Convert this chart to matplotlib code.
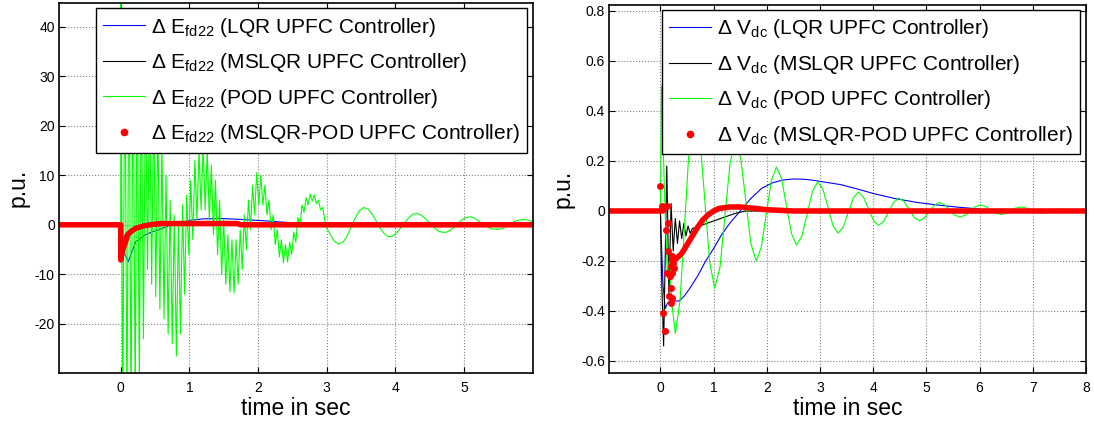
"""Delta Efd22 and Delta Vdc responses for the four UPFC controllers."""

import numpy as np
import matplotlib
matplotlib.use('Agg')
import matplotlib.pyplot as plt
from matplotlib.lines import Line2D
from matplotlib.ticker import FuncFormatter

plt.rcParams['font.family'] = ['Liberation Sans', 'DejaVu Sans']
plt.rcParams['axes.unicode_minus'] = False

# ---- left panel: delta E_fd22 ----
efd_lqr_t = [-0.9, 0.0, 0.02, 0.06, 0.11, 0.16, 0.22, 0.3, 0.36, 0.46, 0.56, 0.66,
             0.75, 0.9, 1.0, 1.2, 1.5, 1.8, 2.1, 2.4, 2.7, 3.0, 6.0]
efd_lqr_v = [0, 0, -2.5, -6.0, -7.4, -5.5, -3.4, -2.6, -2.0, -1.4, -1.0, -0.4,
             0.1, 0.5, 0.9, 1.2, 1.25, 1.05, 0.8, 0.5, 0.2, 0.05, 0.0]

efd_mslqr_t = [-0.9, 0.0, 0.01, 0.04, 0.08, 0.15, 0.25, 0.4, 0.6, 1.7, 1.8, 6.0]
efd_mslqr_v = [0, 0, -3.0, -2.6, -1.8, -1.0, -0.4, 0.0, 0.25, 0.25, 0.0, 0.0]

# POD: fast swings read every 0.03 s from t = 0, then the slow tail every 0.06 s from t = 3
efd_pod_fast_step = 0.03
efd_pod_fast_v = [50, -40, 42, -40, 40, -38, 38, -36, 35, -32,
                  32, -23, 30, -9, 28, -12, 26, -14.5, 22, -17,
                  16, -19, 10, -22, 5, -24, 2, -26.5, 0, -22,
                  4, -14, 6, -6, 9, -3, 13, 1, 15, 3,
                  16, 3, 15, 1, 12, -2, 9, -6, 5, -10,
                  1, -12, -2, -13.5, -3, -13.8, -3, -12, -1, -9,
                  2, -5, 5, -1, 8, 2, 10.5, 4, 10, 4,
                  8, 2, 5, -1, 2, -4, -1, -6.5, -3, -7.7,
                  -4, -7.5, -3.5, -6, -1.5, -3.5, 1.5, -0.5, 4, 2.5,
                  5.5, 4, 6.2, 4.8, 6, 4.3, 5, 3, 3.5, 1.2]
efd_pod_tail_start = 3.0
efd_pod_tail_step = 0.06
efd_pod_tail_v = [-0.6, -2.2, -3.4, -3.9, -3.5, -2.2, -0.3, 1.5, 2.9, 3.5,
                  3.2, 2.2, 0.8, -0.7, -1.8, -2.4, -2.3, -1.6, -0.6, 0.5,
                  1.5, 2.2, 2.3, 1.9, 1.2, 0.3, -0.5, -1.2, -1.5, -1.5,
                  -1.1, -0.4, 0.4, 1.1, 1.5, 1.6, 1.3, 0.7, 0.1, -0.4,
                  -0.8, -0.9, -0.9, -0.6, -0.1, 0.4, 0.8, 1.0, 1.1, 0.9, 0.6]

efd_mix_t = [-0.9, 0.0, 0.0, 0.02, 0.05, 0.08, 0.1, 0.15, 0.22, 0.34, 0.45, 0.58,
             1.7, 1.75, 6.0]
efd_mix_v = [0, 0, -7.1, -5.5, -4.2, -3.0, -2.0, -1.35, -0.7, -0.2, 0.05, 0.25,
             0.25, 0.0, 0.0]

# ---- right panel: delta V_dc ----
vdc_lqr_t = [-0.96, 0.0, 0.01, 0.05, 0.09, 0.13, 0.17, 0.25, 0.35, 0.45, 0.55, 0.7,
             0.85, 1.0, 1.15, 1.3, 1.5, 1.7, 1.9, 2.1, 2.3, 2.5, 2.7, 2.9, 3.1, 3.4,
             3.7, 4.0, 4.4, 4.8, 5.2, 5.6, 6.0]
vdc_lqr_v = [0, 0, -0.08, -0.3, -0.39, -0.37, -0.36, -0.36, -0.36, -0.34, -0.31, -0.26,
             -0.2, -0.15, -0.095, -0.05, 0.0, 0.05, 0.09, 0.112, 0.124, 0.128, 0.127,
             0.122, 0.115, 0.105, 0.088, 0.07, 0.05, 0.035, 0.024, 0.015, 0.008]

vdc_mslqr_t = [-0.96, 0.0, 0.02, 0.06, 0.12, 0.16, 0.2, 0.24, 0.28, 0.32, 0.36, 0.4,
               0.44, 0.48, 0.52, 0.56, 0.6, 0.8, 1.0, 1.2, 1.4, 1.6, 2.0, 8.0]
vdc_mslqr_v = [0, 0, -0.25, -0.54, 0.18, -0.34, 0.03, -0.16, -0.03, -0.13, -0.04, -0.11,
               -0.05, -0.1, -0.06, -0.09, -0.07, -0.055, -0.04, -0.025, -0.01, 0.0,
               0.0, 0.0]

vdc_pod_t = [-0.96, 0.0, 0.02, 0.08, 0.13, 0.17, 0.22, 0.28,
             0.37, 0.46, 0.55, 0.64, 0.735, 0.83, 0.925, 1.02,
             1.12, 1.215, 1.31, 1.41, 1.51, 1.605, 1.70, 1.80,
             1.895, 1.99, 2.085, 2.18, 2.275, 2.37, 2.465, 2.56,
             2.66, 2.76, 2.86, 2.96, 3.055, 3.15, 3.245, 3.34,
             3.435, 3.53, 3.625, 3.72, 3.815, 3.91, 4.005, 4.10,
             4.195, 4.29, 4.385, 4.48, 4.58, 4.675, 4.77, 4.87,
             4.96, 5.055, 5.15, 5.24, 5.34, 5.435, 5.53, 5.63,
             5.73, 5.825, 5.92, 6.02, 6.115, 6.21, 6.305, 6.40,
             6.495, 6.59, 6.685, 6.78, 6.875, 6.975, 7.07, 7.17,
             7.265, 7.365, 7.46, 7.56, 7.655, 7.75, 7.845, 7.94, 8.0]
vdc_pod_v = [0, 0, 0.5, 0.05, -0.25, -0.2, -0.38, -0.49,
             -0.357, -0.035, 0.287, 0.42, 0.313, 0.055, -0.203, -0.31,
             -0.224, -0.015, 0.194, 0.28, 0.21, 0.04, -0.13, -0.2,
             -0.145, -0.012, 0.121, 0.176, 0.131, 0.02, -0.091, -0.137,
             -0.10, -0.01, 0.08, 0.117, 0.087, 0.014, -0.059, -0.089,
             -0.065, -0.007, 0.052, 0.076, 0.056, 0.009, -0.038, -0.058,
             -0.042, -0.004, 0.035, 0.051, 0.038, 0.006, -0.026, -0.039,
             -0.028, -0.003, 0.023, 0.034, 0.025, 0.005, -0.016, -0.024,
             -0.017, 0.0, 0.017, 0.024, 0.018, 0.005, -0.008, -0.014,
             -0.01, 0.001, 0.012, 0.016, 0.012, 0.004, -0.005, -0.009,
             -0.006, 0.0, 0.006, 0.008, 0.006, 0.001, -0.003, -0.005, -0.004]

vdc_mix_t = [-0.96, 0.05, np.nan, 0.22, 0.3, 0.4, 0.5, 0.6, 0.7, 0.8, 0.9, 1.0, 1.1,
             1.3, 1.5, 1.7, 2.0, 2.5, 8.0]
vdc_mix_v = [0, 0, np.nan, -0.2, -0.19, -0.17, -0.135, -0.1, -0.065, -0.035, -0.015,
             0.0, 0.01, 0.016, 0.016, 0.012, 0.005, 0.0, 0.0]
vdc_mix_dots_t = [0.0, 0.03, 0.12, 0.04, 0.09, 0.11, 0.15, 0.15, 0.12, 0.18, 0.2,
                  0.17, 0.2, 0.22, 0.22, 0.24, 0.26, 0.19, 0.21]
vdc_mix_dots_v = [0.1, 0.02, 0.02, -0.41, -0.48, -0.077, -0.05, -0.16, -0.25, -0.26,
                  -0.31, -0.34, -0.37, -0.35, -0.25, -0.21, -0.23, -0.22, -0.18]

controllers = ['LQR', 'MSLQR', 'POD', 'MSLQR-POD']
colors = ['#0000ff', '#000000', '#00ff00', '#ff0000']


def style_axes(ax, xlim, ylim, xticks, yticks, ylab_x):
    ax.set_xlim(xlim)
    ax.set_ylim(ylim)
    ax.set_xticks(xticks)
    ax.set_yticks(yticks)
    fmt = FuncFormatter(lambda v, p: '%g' % round(v, 6))
    ax.xaxis.set_major_formatter(fmt)
    ax.yaxis.set_major_formatter(fmt)
    ax.grid(True, color='0.5', ls=':', lw=0.8)
    ax.set_axisbelow(True)
    ax.tick_params(direction='in', top=True, right=True, length=4, width=0.8,
                   labelsize=10)
    ax.tick_params(axis='x', pad=6)
    ax.tick_params(axis='y', pad=3)
    for sp in ax.spines.values():
        sp.set_linewidth(1.2)
    ax.set_xlabel('time in sec', fontsize=16.5)
    ax.set_ylabel('p.u.', fontsize=16.5)
    ax.xaxis.set_label_coords(0.5, -0.065)
    ax.yaxis.set_label_coords(ylab_x, 0.5)


def add_legend(ax, sym):
    handles = [Line2D([], [], color=colors[0], lw=0.8),
               Line2D([], [], color=colors[1], lw=0.8),
               Line2D([], [], color=colors[2], lw=0.8),
               Line2D([], [], color=colors[3], ls='none', marker='o', ms=4.5)]
    labels = ['Δ ' + sym + ' (%s UPFC Controller)' % c for c in controllers]
    leg = ax.legend(handles, labels, loc='upper right', bbox_to_anchor=(0.988, 0.986),
                    fontsize=15, frameon=True, fancybox=False, edgecolor='k',
                    framealpha=1, borderaxespad=0, handlelength=2.0,
                    handletextpad=0.3, labelspacing=0.6, borderpad=0.35)
    leg.get_frame().set_linewidth(1.0)


fig = plt.figure(figsize=(10.94, 4.25), dpi=100)

# left panel
ax1 = fig.add_axes([0.0539, 0.1224, 0.4330, 0.8699])
pod_t = np.concatenate(([-0.9, 0.0],
                        np.arange(len(efd_pod_fast_v)) * efd_pod_fast_step,
                        efd_pod_tail_start + np.arange(len(efd_pod_tail_v)) * efd_pod_tail_step))
pod_v = np.concatenate(([0, 0], efd_pod_fast_v, efd_pod_tail_v))
ax1.plot(efd_lqr_t, efd_lqr_v, color=colors[0], lw=0.8)
ax1.plot(efd_mslqr_t, efd_mslqr_v, color=colors[1], lw=0.8)
ax1.plot(pod_t, pod_v, color=colors[2], lw=0.8)
ax1.plot(efd_mix_t, efd_mix_v, color=colors[3], lw=4.0, solid_capstyle='round')
style_axes(ax1, (-0.9, 6.0), (-29.9, 44.7), range(0, 6), range(-20, 50, 10), -0.062)
add_legend(ax1, r'E$_{\mathregular{fd22}}$')

# right panel
ax2 = fig.add_axes([0.557, 0.1224, 0.4357, 0.8659])
ax2.plot(vdc_lqr_t, vdc_lqr_v, color=colors[0], lw=0.8)
ax2.plot(vdc_mslqr_t, vdc_mslqr_v, color=colors[1], lw=0.8)
ax2.plot(vdc_pod_t, vdc_pod_v, color=colors[2], lw=0.8)
ax2.plot(vdc_mix_t, vdc_mix_v, color=colors[3], lw=4.0, solid_capstyle='round')
ax2.plot(vdc_mix_dots_t, vdc_mix_dots_v, color=colors[3], ls='none', marker='o', ms=4)
style_axes(ax2, (-0.96, 8.0), (-0.648, 0.824), range(0, 9),
           np.arange(-0.6, 0.81, 0.2), -0.074)
add_legend(ax2, r'V$_{\mathregular{dc}}$')

fig.savefig('out.png', dpi=100)
